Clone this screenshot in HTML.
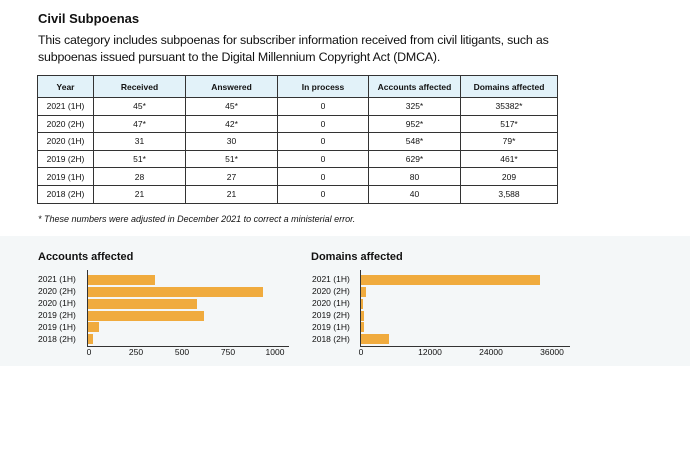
<!DOCTYPE html>
<html><head><style>
body{margin:0;width:690px;height:453px;background:#fff;font-family:"Liberation Sans",sans-serif;color:#111;position:relative;overflow:hidden}
.a{position:absolute}
table{position:absolute;left:37px;top:75px;border-collapse:collapse;font-size:8.5px}
td,th{border:1px solid #333;text-align:center;height:16.6px;padding:0}
th{background:#e2f2f9;height:21px;font-weight:bold}
.g{position:absolute;left:0;top:236px;width:690px;height:130px;background:#f4f7f8}
.bar{position:absolute;height:10px;background:#f0ab3e}
.lbl{position:absolute;font-size:8.5px;width:60px}
.t{position:absolute;font-size:8.5px;transform:translateX(-50%)}
</style></head><body>
<div class="a" style="left:38px;top:11px;font-size:13px;font-weight:bold">Civil Subpoenas</div>
<div class="a" style="left:38px;top:32px;font-size:12.4px;letter-spacing:-0.18px;line-height:17px;width:600px;white-space:nowrap">This category includes subpoenas for subscriber information received from civil litigants, such as<br>subpoenas issued pursuant to the Digital Millennium Copyright Act (DMCA).</div>
<table>
<tr><th style="width:55px">Year</th><th style="width:91px">Received</th><th style="width:91px">Answered</th><th style="width:90px">In process</th><th style="width:91px">Accounts affected</th><th style="width:96px">Domains affected</th></tr>
<tr><td>2021 (1H)</td><td>45*</td><td>45*</td><td>0</td><td>325*</td><td>35382*</td></tr>
<tr><td>2020 (2H)</td><td>47*</td><td>42*</td><td>0</td><td>952*</td><td>517*</td></tr>
<tr><td>2020 (1H)</td><td>31</td><td>30</td><td>0</td><td>548*</td><td>79*</td></tr>
<tr><td>2019 (2H)</td><td>51*</td><td>51*</td><td>0</td><td>629*</td><td>461*</td></tr>
<tr><td>2019 (1H)</td><td>28</td><td>27</td><td>0</td><td>80</td><td>209</td></tr>
<tr><td>2018 (2H)</td><td>21</td><td>21</td><td>0</td><td>40</td><td>3,588</td></tr>
</table>
<div class="a" style="left:38px;top:214px;font-size:9px;font-style:italic">* These numbers were adjusted in December 2021 to correct a ministerial error.</div>
<div class="g"></div>
<div class="a" style="left:38px;top:251px;font-size:11px;font-weight:bold">Accounts affected</div>
<div class="a" style="left:311px;top:251px;font-size:11px;font-weight:bold">Domains affected</div>

<div class="lbl" style="left:38px;top:274px">2021 (1H)</div>
<div class="lbl" style="left:38px;top:286px">2020 (2H)</div>
<div class="lbl" style="left:38px;top:298px">2020 (1H)</div>
<div class="lbl" style="left:38px;top:310px">2019 (2H)</div>
<div class="lbl" style="left:38px;top:322px">2019 (1H)</div>
<div class="lbl" style="left:38px;top:334px">2018 (2H)</div>
<div class="lbl" style="left:312px;top:274px">2021 (1H)</div>
<div class="lbl" style="left:312px;top:286px">2020 (2H)</div>
<div class="lbl" style="left:312px;top:298px">2020 (1H)</div>
<div class="lbl" style="left:312px;top:310px">2019 (2H)</div>
<div class="lbl" style="left:312px;top:322px">2019 (1H)</div>
<div class="lbl" style="left:312px;top:334px">2018 (2H)</div>

<div class="bar" style="left:88px;top:275px;width:67px"></div>
<div class="bar" style="left:88px;top:287px;width:175px"></div>
<div class="bar" style="left:88px;top:299px;width:109px"></div>
<div class="bar" style="left:88px;top:311px;width:116px"></div>
<div class="bar" style="left:88px;top:322px;width:11px"></div>
<div class="bar" style="left:88px;top:334px;width:5px"></div>
<div class="a" style="left:87px;top:270px;width:1px;height:77px;background:#333"></div>
<div class="a" style="left:87px;top:346px;width:202px;height:1px;background:#333"></div>
<div class="t" style="left:89px;top:347px">0</div>
<div class="t" style="left:136px;top:347px">250</div>
<div class="t" style="left:182px;top:347px">500</div>
<div class="t" style="left:228px;top:347px">750</div>
<div class="t" style="left:275px;top:347px">1000</div>

<div class="bar" style="left:361px;top:275px;width:179px"></div>
<div class="bar" style="left:361px;top:287px;width:5px"></div>
<div class="bar" style="left:361px;top:299px;width:2px"></div>
<div class="bar" style="left:361px;top:311px;width:3px"></div>
<div class="bar" style="left:361px;top:322px;width:3px"></div>
<div class="bar" style="left:361px;top:334px;width:28px"></div>
<div class="a" style="left:360px;top:270px;width:1px;height:77px;background:#333"></div>
<div class="a" style="left:360px;top:346px;width:210px;height:1px;background:#333"></div>
<div class="t" style="left:361px;top:347px">0</div>
<div class="t" style="left:430px;top:347px">12000</div>
<div class="t" style="left:491px;top:347px">24000</div>
<div class="t" style="left:552px;top:347px">36000</div>
</body></html>
